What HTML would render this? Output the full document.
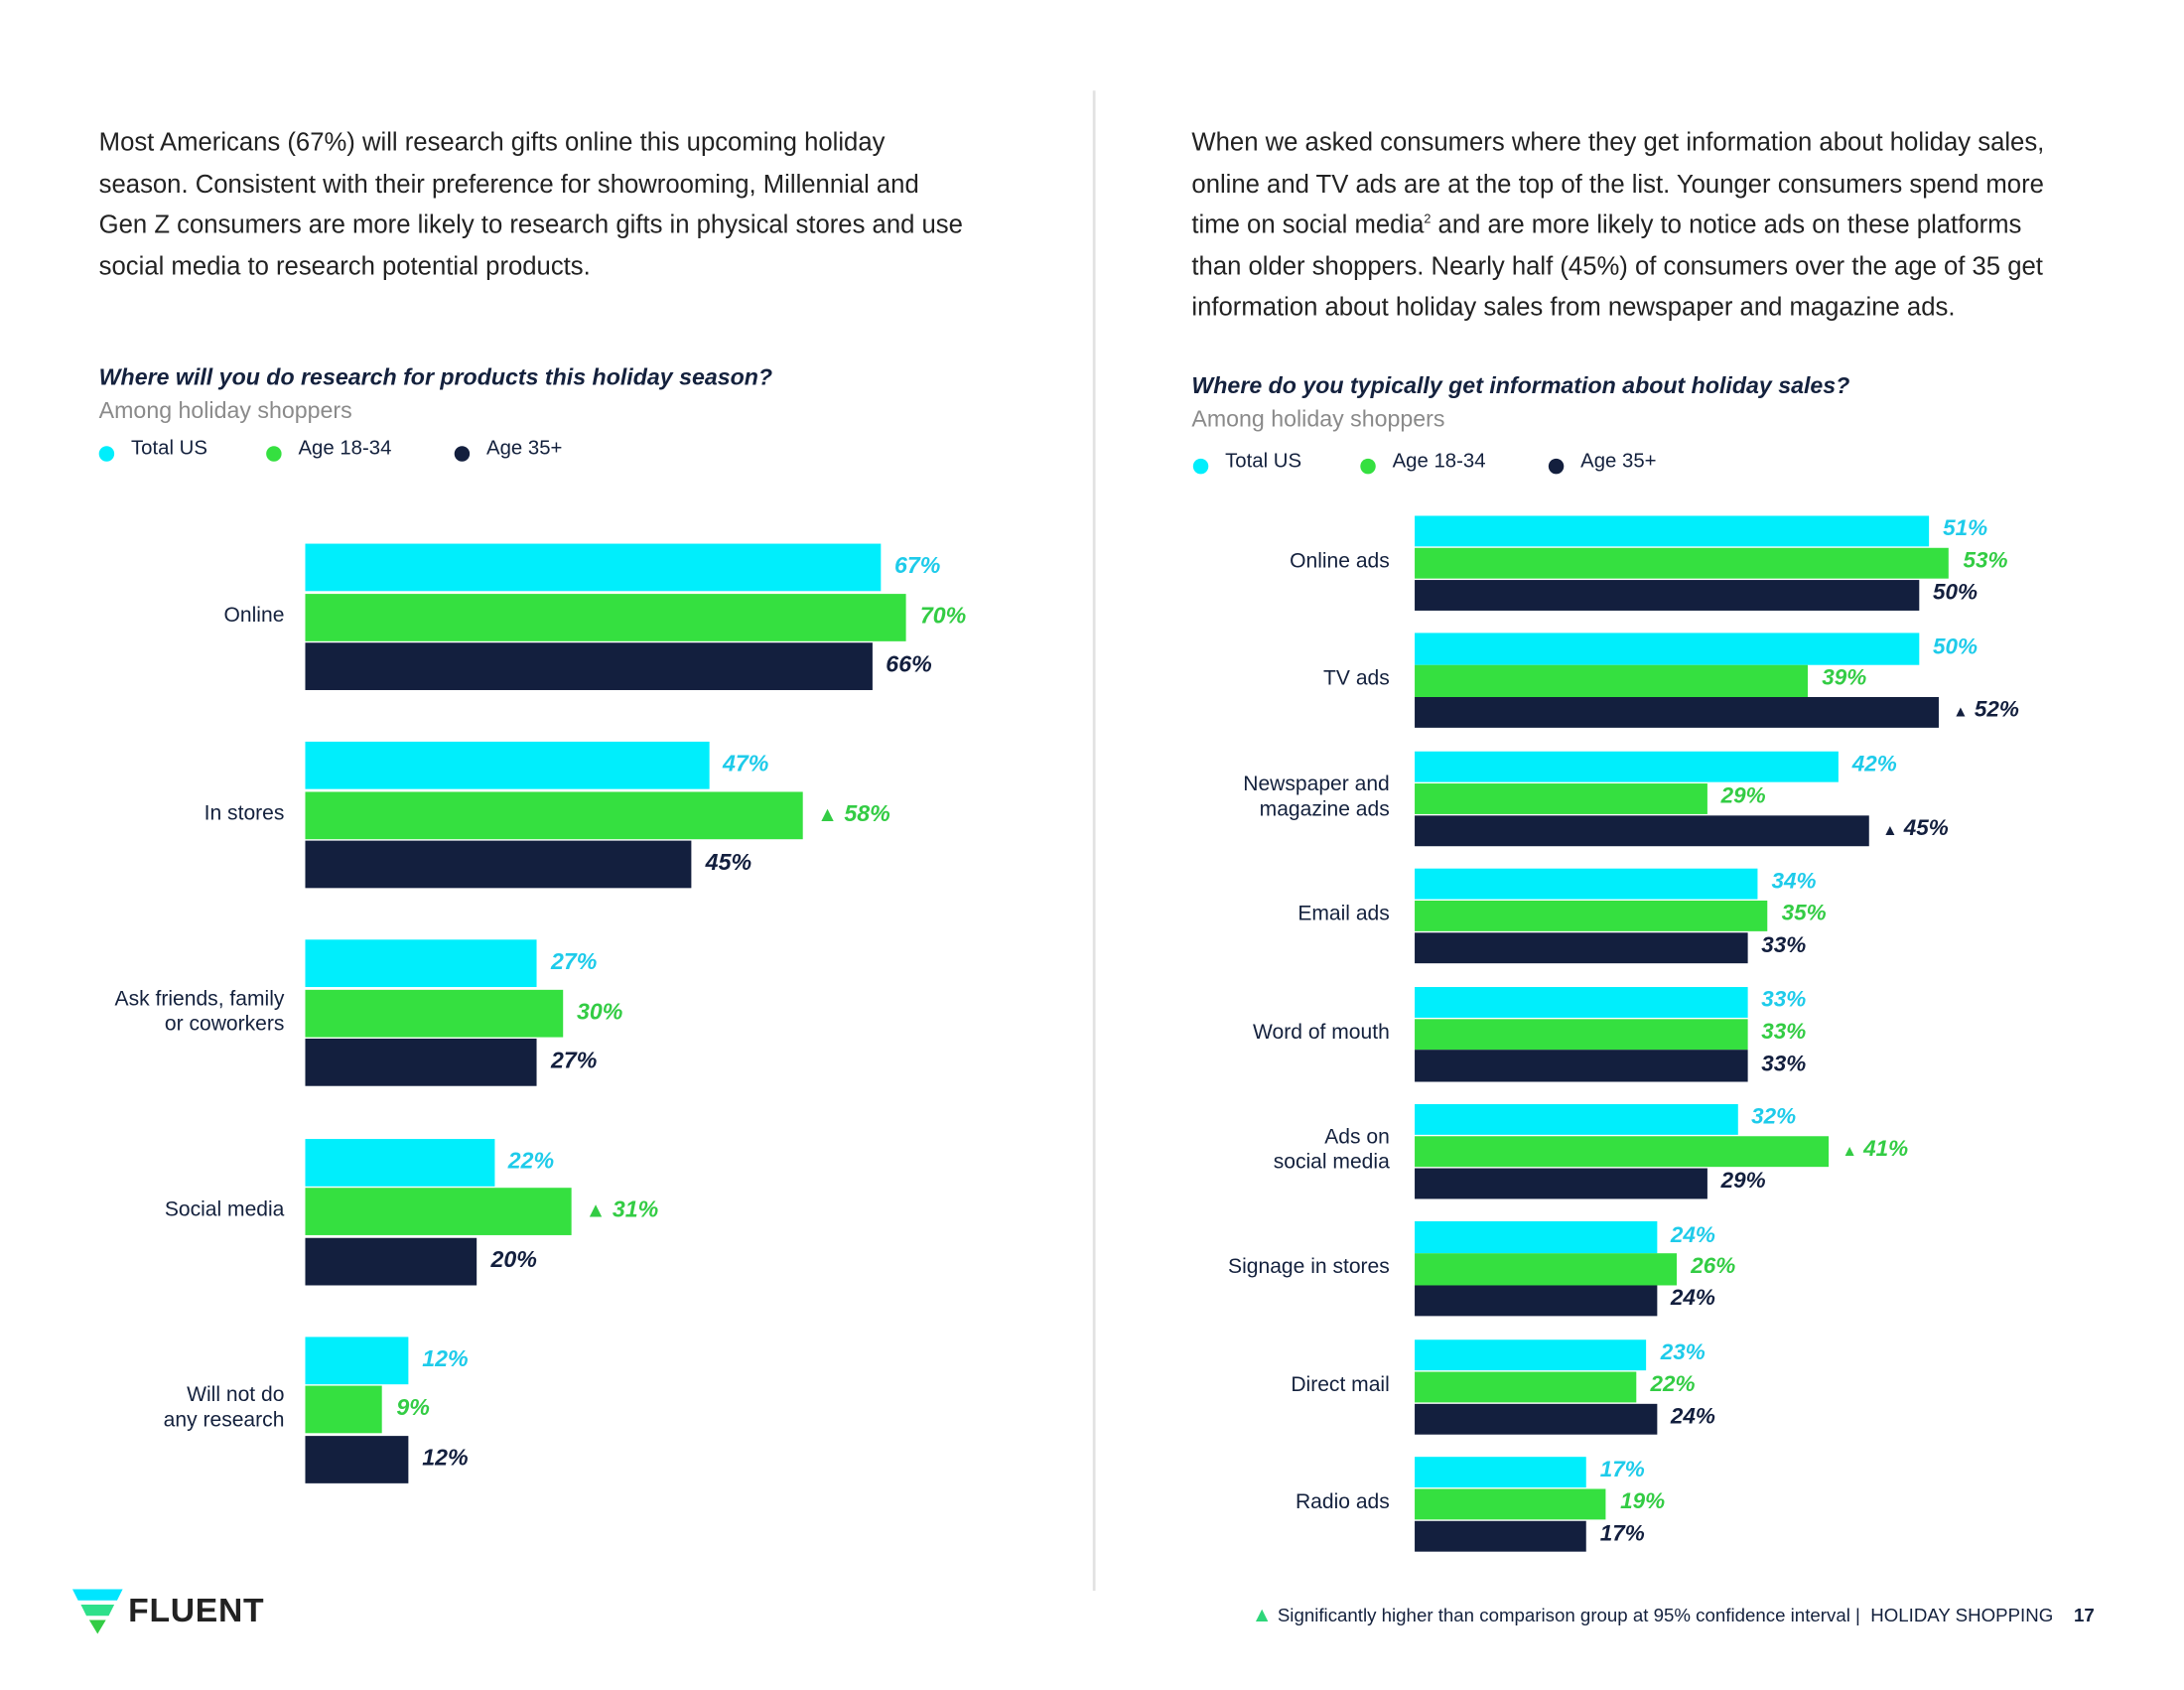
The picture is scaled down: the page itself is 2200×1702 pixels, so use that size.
<!DOCTYPE html>
<html><head><meta charset="utf-8"><style>
html,body{margin:0;padding:0;background:#fff;}
body{width:2200px;height:1700px;overflow:hidden;position:relative;font-family:"Liberation Sans",sans-serif;}
#page{position:absolute;left:0;top:0;width:1570px;height:1212px;transform:scale(1.4040);transform-origin:0 0;}
.a{position:absolute;white-space:nowrap;}
.para{font-size:18.3px;line-height:29.5px;color:#222;}
.title{font-size:16.5px;font-style:italic;font-weight:bold;color:#14213d;}
.sub{font-size:16.5px;color:#8a8a8a;}
.leg{font-size:14.5px;color:#14213d;}
.dot{position:absolute;width:11px;height:11px;border-radius:50%;}
.cat{font-size:15px;color:#14213d;text-align:right;line-height:18px;}
.val{font-size:16px;font-style:italic;font-weight:bold;}
.bar{position:absolute;}
</style></head><body>
<div id="page">
<div class="a para" style="left:71px;top:87px;">Most Americans (67%) will research gifts online this upcoming holiday<br>season. Consistent with their preference for showrooming, Millennial and<br>Gen Z consumers are more likely to research gifts in physical stores and use<br>social media to research potential products.</div>
<div class="a para" style="left:855px;top:87px;">When we asked consumers where they get information about holiday sales,<br>online and TV ads are at the top of the list. Younger consumers spend more<br>time on social media<sup style="font-size:9px;line-height:0">2</sup> and are more likely to notice ads on these platforms<br>than older shoppers. Nearly half (45%) of consumers over the age of 35 get<br>information about holiday sales from newspaper and magazine ads.</div>
<div class="a" style="left:784px;top:65px;width:2px;height:1076px;background:#e2e2e2;"></div>

<div class="a title" style="left:71px;top:262px;">Where will you do research for products this holiday season?</div>
<div class="a sub" style="left:71px;top:286px;">Among holiday shoppers</div>
<div class="a title" style="left:855px;top:268px;">Where do you typically get information about holiday sales?</div>
<div class="a sub" style="left:855px;top:292px;">Among holiday shoppers</div>

<div id="legL"></div>
<div id="legR"></div>
<div id="chartL"></div>
<div id="chartR"></div>

<div class="a" style="left:52px;top:1140px;">
<svg width="36" height="32" viewBox="0 0 36 32" style="position:absolute;left:0;top:0"><polygon points="0,0 36,0 32,8 4,8" fill="#00e5ff"/><polygon points="6,11 30,11 26,19 10,19" fill="#2ee08a"/><polygon points="12,22 24,22 18,32" fill="#33cc44"/></svg>
<span class="a" style="left:40px;top:2px;font-size:24px;font-weight:bold;color:#222;letter-spacing:0.5px;">FLUENT</span></div>
<div class="a" style="left:898px;top:1150px;font-size:13.3px;color:#14213d;"><span style="color:#2ed67a;font-size:15px;">▲</span> Significantly higher than comparison group at 95% confidence interval |&nbsp; HOLIDAY SHOPPING &nbsp;&nbsp;&nbsp;<b>17</b></div>
</div>
<script>
const seriesNames=["Total US","Age 18-34","Age 35+"];
const leftCats=["Online","In stores","Ask friends, family\nor coworkers","Social media","Will not do\nany research"];
const leftTotal=[67,47,27,22,12];
const leftYoung=[70,58,30,31,9];
const leftOld=[66,45,27,20,12];
const leftSig=[[0,0,0],[0,1,0],[0,0,0],[0,1,0],[0,0,0]];
const rightCats=["Online ads","TV ads","Newspaper and\nmagazine ads","Email ads","Word of mouth","Ads on\nsocial media","Signage in stores","Direct mail","Radio ads"];
const rightTotal=[51,50,42,34,33,32,24,23,17];
const rightYoung=[53,39,29,35,33,41,26,22,19];
const rightOld=[50,52,45,33,33,29,24,24,17];
const rightSig=[[0,0,0],[0,0,1],[0,0,1],[0,0,0],[0,0,0],[0,1,0],[0,0,0],[0,0,0],[0,0,0]];
const barColors=["#00eefc","#35e040","#131f3e"];
const labColors=["#1ecbea","#33cc44","#131f3e"];
const page=document.getElementById('page');
function legend(id,x,y){
  const offs=[0,120,255];
  seriesNames.forEach((n,i)=>{
    const d=document.createElement('div');d.className='dot';
    d.style.left=(x+offs[i])+'px';d.style.top=(y+4)+'px';d.style.background=barColors[i];
    
    
    page.appendChild(d);
    const t=document.createElement('div');t.className='a leg';t.textContent=n;
    t.style.left=(x+offs[i]+23)+'px';t.style.top=(y-2)+'px';
    
    
    page.appendChild(t);
  });
}
legend('legL',71,316);
legend('legR',856,325);
function chart(cats,series,sig,x0,pxPer,top,pitch,bh,gap,labelRight,fs,triSize){
  const xs=v=>v*pxPer;
  cats.forEach((cat,ci)=>{
    const gy=top+ci*pitch;
    series.forEach((arr,si)=>{
      const y=gy+si*(bh+gap);
      const b=document.createElement('div');b.className='bar';
      b.style.left=x0+'px';b.style.top=y+'px';b.style.width=xs(arr[ci])+'px';b.style.height=bh+'px';b.style.background=barColors[si];
      
      
      page.appendChild(b);
      const l=document.createElement('div');l.className='a val';
      l.style.left=(x0+xs(arr[ci])+10)+'px';l.style.top=(y+bh/2-10)+'px';l.style.color=labColors[si];l.style.fontSize=fs+'px';
      l.innerHTML=(sig[ci][si]?'<span style="font-style:normal;font-size:'+triSize+'px">▲</span> ':'')+arr[ci]+'%';
      
      
      page.appendChild(l);
    });
    const total=3*bh+2*gap;
    const lines=cat.split('\n');
    const c=document.createElement('div');c.className='a cat';
    c.innerHTML=lines.join('<br>');
    c.style.right=(1570-labelRight)+'px';c.style.top=(gy+total/2-lines.length*9-1)+'px';
    
    
    page.appendChild(c);
  });
}
chart(leftCats,[leftTotal,leftYoung,leftOld],leftSig,219,6.16,390,142.2,34,1.5,204,16.5,15);
chart(rightCats,[rightTotal,rightYoung,rightOld],rightSig,1015,7.235,370,84.4,22.3,0.6,997,16,11);
</script>
</body></html>
